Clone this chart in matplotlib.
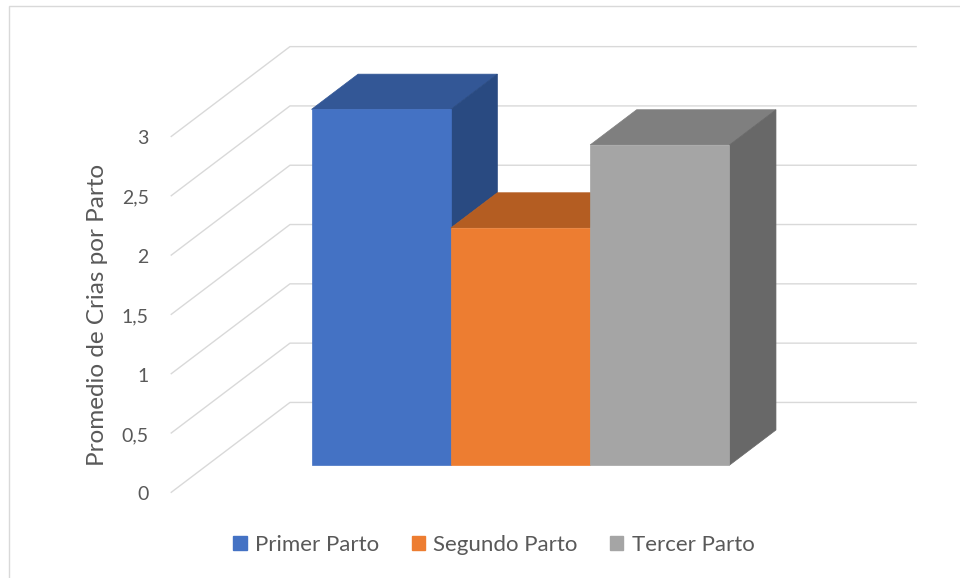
import matplotlib
matplotlib.use("Agg")
import matplotlib.pyplot as plt
from matplotlib.patches import Polygon, Patch, Rectangle

# data
series = ["Primer Parto", "Segundo Parto", "Tercer Parto"]
values = [3.0, 2.0, 2.7]
ticks = [0, 0.5, 1, 1.5, 2, 2.5, 3]
tick_labels = ["0", "0,5", "1", "1,5", "2", "2,5", "3"]
ylabel = "Promedio de Crias por Parto"

front_colors = ["#4472C4", "#ED7D31", "#A5A5A5"]
top_colors = ["#335796", "#B45D22", "#7F7F7F"]
side_colors = ["#294A81", "#9A4E1B", "#686868"]

plt.rcParams["font.family"] = ["Lato", "DejaVu Sans"]
TXT = "#595959"
GRID = "#D9D9D9"

# oblique "3d" look: depth shifts points right and up (in data units)
DX, DY = 0.856, 0.761
WALL_W = 4.5          # width of the back wall in series units
D0, D1 = 0.305, 0.695  # depth span of the bars
X_START = (WALL_W - len(values)) / 2


def proj(x, v, d):
    return (x + d * DX, v + d * DY)


fig = plt.figure(figsize=(9.6, 5.78), dpi=100)
ax = fig.add_axes([0, 0, 1, 1])
ax.set_xlim(-1.2254, 5.666)
ax.set_ylim(-0.719, 4.154)
ax.axis("off")

# chart border
fig.patches.append(Rectangle((9 / 960, -0.02), 1.02, 1 - 6 / 578 + 0.02,
                             transform=fig.transFigure, fill=False,
                             edgecolor=GRID, linewidth=1.0))

# gridlines: side wall diagonal + back wall horizontal
for v, lab in zip(ticks, tick_labels):
    p0 = proj(0, v, 0)
    p1 = proj(0, v, 1)
    p2 = proj(WALL_W, v, 1)
    ax.plot([p0[0], p1[0], p2[0]], [p0[1], p1[1], p2[1]],
            color=GRID, linewidth=1.0, zorder=1, solid_capstyle="butt")
    ax.annotate(lab, xy=p0, xytext=(-22, -2), textcoords="offset pixels",
                ha="right", va="center", fontsize=14, color=TXT)

# bars; the right side face is hidden where the next bar stands against it
for i, h in enumerate(values):
    x0 = X_START + i
    x1 = x0 + 1
    nxt = values[i + 1] if i + 1 < len(values) else 0
    lo = min(nxt, h)
    front = [proj(x0, 0, D0), proj(x1, 0, D0), proj(x1, h, D0), proj(x0, h, D0)]
    top = [proj(x0, h, D0), proj(x1, h, D0), proj(x1, h, D1), proj(x0, h, D1)]
    side = [proj(x1, lo, D0), proj(x1, lo, D1), proj(x1, h, D1), proj(x1, h, D0)]
    faces = [(top, top_colors[i]), (front, front_colors[i])]
    if lo < h:
        faces.insert(1, (side, side_colors[i]))
    for pts, c in faces:
        ax.add_patch(Polygon(pts, closed=True, facecolor=c, edgecolor=c,
                             linewidth=0.5, zorder=2 + i))

fig.text(98 / 960, 1 - 315 / 578, ylabel, rotation=90, ha="center", va="center",
         fontsize=17.5, color=TXT)

handles = [Patch(facecolor=c, edgecolor=c) for c in front_colors]
leg = fig.legend(handles, series, loc="center", bbox_to_anchor=(494 / 960, 1 - 545 / 578),
                 ncol=3, frameon=False, fontsize=16, handlelength=0.6,
                 handleheight=0.6, handletextpad=0.38, columnspacing=1.45)
for t in leg.get_texts():
    t.set_color(TXT)

fig.savefig("out.png", dpi=100)
